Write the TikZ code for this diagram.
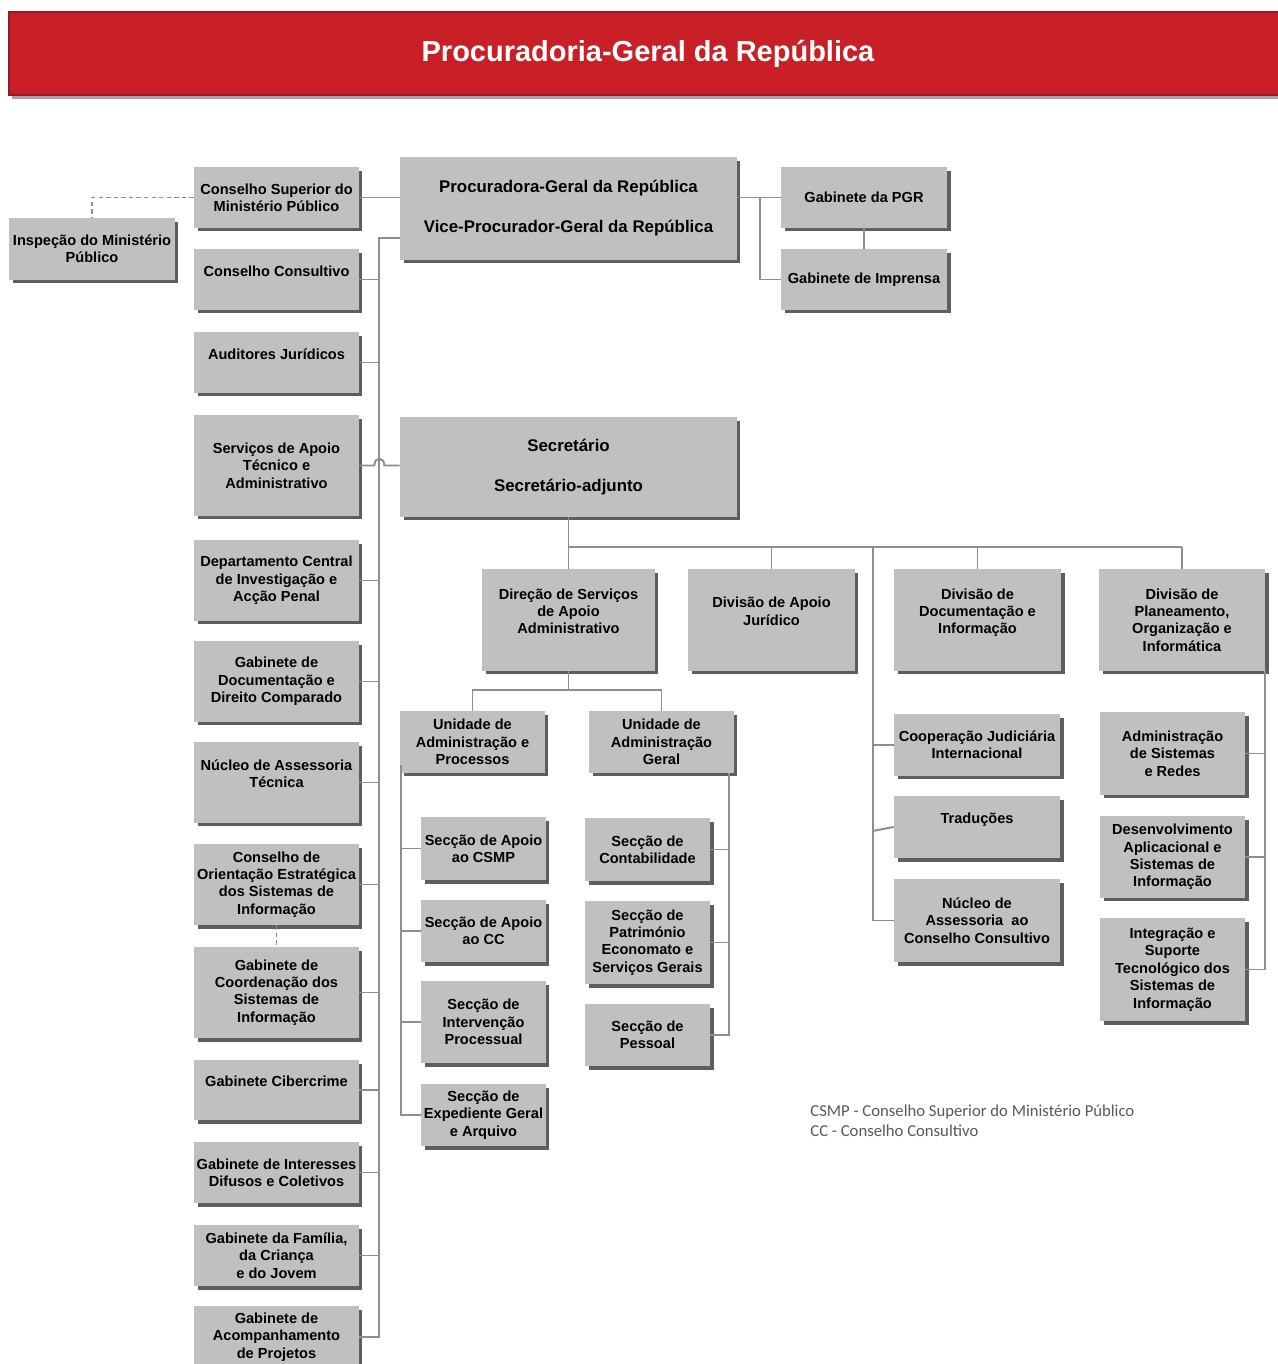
\documentclass[tikz,border=0pt]{standalone}
\usepackage{fontspec}
\setmainfont{Liberation Sans}
\newfontfamily\notefont{Carlito}
\usepackage{tikz}
\usetikzlibrary{shadows,calc}
\definecolor{boxgray}{HTML}{C0C0C0}
\definecolor{linegray}{HTML}{8E8E8E}
\definecolor{shadowgray}{HTML}{5E5E5E}
\definecolor{titlered}{HTML}{C82026}
\definecolor{titleedge}{HTML}{8E1B2E}
\definecolor{notegray}{HTML}{595959}

\begin{document}
\begin{tikzpicture}[
  x=0.02cm, y=-0.02cm,
  orgbox/.style={fill=boxgray, inner sep=1pt, align=center,
                 font=\fontsize{8.3}{9.9}\selectfont\bfseries,
                 drop shadow={shadow xshift=0.07cm, shadow yshift=-0.07cm,
                              fill=shadowgray, opacity=1}},
  headbox/.style={orgbox, font=\fontsize{9.6}{11.4}\selectfont\bfseries,
                  minimum width=6.74cm},
  lbox/.style={orgbox, minimum width=3.3cm},
  secc/.style={orgbox, minimum width=2.5cm},
  titlebar/.style={fill=titlered, draw=titleedge, line width=0.8pt, text=white,
                   minimum width=25.56cm, minimum height=1.66cm,
                   font=\fontsize{16.5}{20}\selectfont\bfseries,
                   drop shadow={shadow xshift=0.06cm, shadow yshift=-0.08cm,
                                fill=black!35, opacity=1}},
  conn/.style={draw=linegray, line width=1.1pt},
  dconn/.style={conn, dash pattern=on 2.5pt off 1.8pt},
  legendtxt/.style={text=notegray, align=left, inner sep=0pt,
                    font=\notefont\fontsize{9.5}{11.4}\selectfont},
]
  \useasboundingbox (0,0) rectangle (1277,1364);

  % Title bar
  \node[titlebar] (title) at (648,53.5) {Procuradoria-Geral da República};

  % Top level
  \node[headbox, minimum height=2.06cm] (pgr) at (568.5,208.5)
    {Procuradora-Geral da República\\\mbox{}\\Vice-Procurador-Geral da República};
  \node[orgbox, minimum width=3.32cm, minimum height=1.22cm] (gpgr) at (864,197.5) {Gabinete da PGR};
  \node[orgbox, minimum width=3.32cm, minimum height=1.22cm] (gimp) at (864,279.5) {Gabinete de Imprensa};

  % Left column
  \node[lbox, minimum height=1.22cm] (consup) at (276.5,197.5) {Conselho Superior do\\Ministério Público};
  \node[lbox, minimum width=3.32cm, minimum height=1.24cm] (insp) at (92,249) {Inspeção do Ministério\\Público};
  \node[lbox, minimum height=1.22cm] (consult) at (276.5,279.5) {Conselho Consultivo\\\mbox{}};
  \node[lbox, minimum height=1.22cm] (audit) at (276.5,362.5) {Auditores Jurídicos\\\mbox{}};
  \node[lbox, minimum height=2.02cm] (servicos) at (276.5,465.5) {Serviços de Apoio\\Técnico e\\Administrativo};
  \node[lbox, minimum height=1.62cm] (dciap) at (276.5,580.5) {Departamento Central\\de Investigação e\\Acção Penal};
  \node[lbox, minimum height=1.62cm] (gddc) at (276.5,681.5) {Gabinete de\\Documentação e\\Direito Comparado};
  \node[lbox, minimum height=1.62cm] (nat) at (276.5,782.5) {Núcleo de Assessoria\\Técnica\\\mbox{}};
  \node[lbox, minimum height=1.62cm] (coesi) at (276.5,884.5) {Conselho de\\Orientação Estratégica\\dos Sistemas de\\Informação};
  \node[lbox, minimum height=1.82cm] (gcsi) at (276.5,992.5) {Gabinete de\\Coordenação dos\\Sistemas de\\Informação};
  \node[lbox, minimum height=1.2cm] (ciber) at (276.5,1090) {Gabinete Cibercrime\\\mbox{}};
  \node[lbox, minimum height=1.22cm] (gidc) at (276.5,1172.5) {Gabinete de Interesses\\Difusos e Coletivos};
  \node[lbox, minimum height=1.22cm] (familia) at (276.5,1255.5) {Gabinete da Família,\\da Criança\\e do Jovem};
  \node[lbox, minimum height=1.24cm] (acomp) at (276.5,1337) {Gabinete de\\Acompanhamento\\de Projetos};

  % Secretario and divisions
  \node[headbox, minimum height=2.0cm] (sec) at (568.5,467) {Secretário\\\mbox{}\\Secretário-adjunto};
  \node[orgbox, minimum width=3.46cm, minimum height=2.04cm] (dsaa) at (568.5,620) {Direção de Serviços\\de Apoio\\Administrativo\\\mbox{}};
  \node[orgbox, minimum width=3.34cm, minimum height=2.04cm] (daj) at (771.5,620) {Divisão de Apoio\\Jurídico\\\mbox{}};
  \node[orgbox, minimum width=3.34cm, minimum height=2.04cm] (ddi) at (977.5,620) {Divisão de\\Documentação e\\Informação\\\mbox{}};
  \node[orgbox, minimum width=3.32cm, minimum height=2.04cm] (dpoi) at (1182,620) {Divisão de\\Planeamento,\\Organização e\\Informática};

  % Units under DSAA
  \node[orgbox, minimum width=2.9cm, minimum height=1.24cm] (uap) at (472.5,742) {Unidade de\\Administração e\\Processos};
  \node[orgbox, minimum width=2.9cm, minimum height=1.24cm] (uag) at (661.5,742) {Unidade de\\Administração\\Geral};
  \node[secc, minimum height=1.26cm] (sacsmp) at (483.5,848.5) {Secção de Apoio\\ao CSMP};
  \node[secc, minimum height=1.24cm] (sacc) at (483.5,931) {Secção de Apoio\\ao CC};
  \node[secc, minimum height=1.64cm] (sip) at (483.5,1022) {Secção de\\Intervenção\\Processual};
  \node[secc, minimum height=1.24cm] (segea) at (483.5,1115) {Secção de\\Expediente Geral\\e Arquivo};
  \node[secc, minimum height=1.26cm] (scont) at (647.5,849.5) {Secção de\\Contabilidade};
  \node[secc, minimum height=1.66cm] (spat) at (647.5,942.5) {Secção de\\Património\\Economato e\\Serviços Gerais};
  \node[secc, minimum height=1.24cm] (spes) at (647.5,1035) {Secção de\\Pessoal};

  % Middle branch
  \node[orgbox, minimum width=3.32cm, minimum height=1.24cm] (cji) at (977,745) {Cooperação Judiciária\\Internacional};
  \node[orgbox, minimum width=3.32cm, minimum height=1.24cm] (trad) at (977,827) {Traduções\\\mbox{}};
  \node[orgbox, minimum width=3.32cm, minimum height=1.66cm] (nacc) at (977,920.5) {Núcleo de\\Assessoria\ \ ao\\Conselho Consultivo};

  % Under DPOI
  \node[orgbox, minimum width=2.9cm, minimum height=1.66cm] (asr) at (1172.5,753.5) {Administração\\de Sistemas\\e Redes};
  \node[orgbox, minimum width=2.9cm, minimum height=1.64cm] (dasi) at (1172.5,857) {Desenvolvimento\\Aplicacional e\\Sistemas de\\Informação};
  \node[orgbox, minimum width=2.9cm, minimum height=2.06cm] (istsi) at (1172.5,969.5) {Integração e\\Suporte\\Tecnológico dos\\Sistemas de\\Informação};

  % Legend
  \node[legendtxt, anchor=west] (legend) at (810,1121)
    {CSMP - Conselho Superior do Ministério Público\\CC - Conselho Consultivo};

  % Connectors
  \coordinate (spinetop) at (379,238);
  \coordinate (gabbus) at (760,197.5);
  \coordinate (secbus) at (568.5,547);
  \coordinate (midspine) at (873,547);
  \coordinate (dsaabus) at (568.5,690);
  \coordinate (uapspine) at (401,765);
  \coordinate (uagspine) at (729,773);

  \draw[conn] (consup.east) -- (pgr.west |- consup.east);
  \draw[dconn] (consup.west) -| (insp.north);
  \draw[conn] (pgr.west |- spinetop) -- (spinetop) |- (acomp.east);
  \foreach \n in {consult,audit,dciap,gddc,nat,coesi,gcsi,ciber,gidc,familia}
    \draw[conn] (\n.east) -- (\n.east -| spinetop);
  \draw[dconn] (coesi.south) -- (gcsi.north);
  \draw[conn] (servicos.east) -- ++(15,0) .. controls +(0,-9) and +(0,-9) .. ++(10,0)
    -- (sec.west |- servicos.east);

  \draw[conn] (pgr.east |- gpgr.west) -- (gpgr.west);
  \draw[conn] (gabbus) |- (gimp.west);
  \draw[conn] (gpgr.south) -- (gimp.north);

  \draw[conn] (sec.south) |- (dpoi.north |- secbus);
  \foreach \n in {dsaa,daj,ddi,dpoi}
    \draw[conn] (\n.north |- secbus) -- (\n.north);
  \draw[conn] (midspine) |- (nacc.west);
  \draw[conn] (cji.west) -- (cji.west -| midspine);
  \draw[conn] (trad.west) -- ++(-21,4);

  \draw[conn] (dsaa.south) -- (dsaabus);
  \draw[conn] (uap.north) |- (dsaabus) -| (uag.north);
  \draw[conn] (uapspine) |- (segea.west);
  \foreach \n in {sacsmp,sacc,sip}
    \draw[conn] (\n.west) -- (\n.west -| uapspine);
  \draw[conn] (uagspine) |- (spes.east);
  \foreach \n in {scont,spat}
    \draw[conn] (\n.east) -- (\n.east -| uagspine);
  \draw[conn] (dpoi.south east) |- (istsi.east);
  \foreach \n in {asr,dasi}
    \draw[conn] (\n.east) -- (\n.east -| dpoi.south east);

\end{tikzpicture}
\end{document}
